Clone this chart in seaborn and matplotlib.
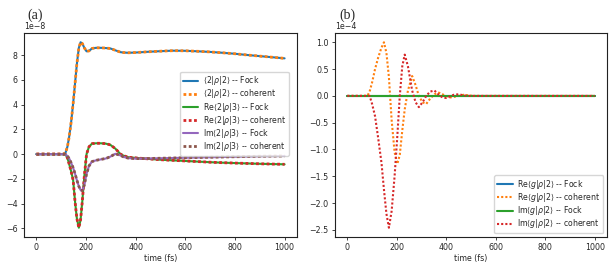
import numpy as np
import matplotlib
matplotlib.use("Agg")
import matplotlib.pyplot as plt
import seaborn as sns

# ---------------- data: panel (a), values in units of 1e-8 ----------------
scale_a = 1e-8
t_a = [0, 50, 100, 110, 117, 125, 132, 140, 148, 156, 163, 171, 178, 185, 193,
       202, 212, 224, 240, 260, 280, 298, 318, 339, 351, 370, 400, 450, 500,
       550, 600, 650, 700, 750, 800, 850, 900, 950, 1000]
pop22 = [0, 0, 0, 0.0, 0.1, 0.6, 1.4, 2.6, 4.1, 5.8, 7.3, 8.6, 9.05, 8.95, 8.6,
         8.32, 8.35, 8.55, 8.6, 8.6, 8.58, 8.55, 8.4, 8.25, 8.22, 8.2, 8.22,
         8.28, 8.33, 8.37, 8.36, 8.32, 8.27, 8.2, 8.12, 8.02, 7.93, 7.84, 7.75]
re23 = [0, 0, 0, 0, -0.02, -0.3, -0.8, -1.4, -2.1, -3.9, -5.2, -5.95, -5.3,
        -3.8, -1.8, 0.0, 0.6, 0.85, 0.88, 0.88, 0.85, 0.75, 0.45, 0.0, -0.12,
        -0.25, -0.3, -0.38, -0.45, -0.5, -0.55, -0.6, -0.65, -0.69, -0.72,
        -0.75, -0.78, -0.8, -0.82]
im23 = [0, 0, 0, 0, -0.02, -0.15, -0.35, -0.7, -1.1, -1.6, -2.1, -2.6, -2.9,
        -2.95, -2.5, -1.6, -0.95, -0.6, -0.5, -0.42, -0.35, -0.2, 0.03, -0.1,
        -0.22, -0.32, -0.36, -0.35, -0.33, -0.31, -0.29, -0.27, -0.25, -0.23,
        -0.21, -0.19, -0.17, -0.16, -0.15]

# ---------------- data: panel (b), values in units of 1e-4 ----------------
scale_b = 1e-4
t_b = [0, 50, 81, 90, 100, 112, 125, 138, 148, 158, 168, 179, 191, 202, 212,
       222, 232, 245, 262, 276, 289, 304, 319, 335, 352, 370, 385, 400, 415,
       430, 450, 470, 490, 510, 550, 600, 700, 800, 900, 1000]
re_g2_coh = [0, 0, 0, 0.08, 0.25, 0.5, 0.72, 0.9, 1.0, 0.8, 0.35, -0.45,
             -1.05, -1.27, -1.1, -0.65, -0.25, 0.1, 0.37, 0.2, 0.0, -0.12,
             -0.15, -0.05, 0.03, 0.06, 0.03, -0.01, -0.03, -0.02, 0.0, 0.02,
             0.01, 0, 0, 0, 0, 0, 0, 0]
im_g2_coh = [0, 0, 0, 0, -0.15, -0.38, -0.8, -1.25, -1.75, -2.2, -2.46, -2.15,
             -1.5, -0.75, 0.0, 0.55, 0.77, 0.55, 0.1, -0.12, -0.21, -0.12, 0.0,
             0.08, 0.1, 0.02, -0.03, -0.04, -0.01, 0.02, 0.03, 0.01, 0.0, 0, 0,
             0, 0, 0, 0, 0]
re_g2_fock = [0] * len(t_b)
im_g2_fock = [0] * len(t_b)

labels_a = [r'⟨2|$\rho$|2⟩ -- Fock',
            r'⟨2|$\rho$|2⟩ -- coherent',
            r'Re⟨2|$\rho$|3⟩ -- Fock',
            r'Re⟨2|$\rho$|3⟩ -- coherent',
            r'Im⟨2|$\rho$|3⟩ -- Fock',
            r'Im⟨2|$\rho$|3⟩ -- coherent']
labels_b = [r'Re⟨$g$|$\rho$|2⟩ -- Fock',
            r'Re⟨$g$|$\rho$|2⟩ -- coherent',
            r'Im⟨$g$|$\rho$|2⟩ -- Fock',
            r'Im⟨$g$|$\rho$|2⟩ -- coherent']

# ---------------- style ----------------
sns.set_style("ticks")
plt.rcParams.update({
    "font.family": ["DejaVu Sans"],
    "font.size": 5.7,
    "axes.linewidth": 0.8,
    "xtick.major.size": 2.5,
    "ytick.major.size": 2.5,
    "xtick.major.width": 0.6,
    "ytick.major.width": 0.6,
    "xtick.direction": "out",
    "ytick.direction": "out",
    "axes.edgecolor": "#222222",
    "mathtext.fontset": "dejavusans",
})
pal = sns.color_palette("tab10")

fig = plt.figure(figsize=(6.11, 2.66), dpi=100)
ax1 = fig.add_axes([24 / 611, 1 - 237 / 266, (297 - 24) / 611, (237 - 33) / 266])
ax2 = fig.add_axes([335 / 611, 1 - 237 / 266, (607 - 335) / 611, (237 - 33) / 266])
for ax in (ax1, ax2):
    for s in ax.spines.values():
        s.set_visible(True)

dot_a = (0, (1.0, 0.9))
dot_b = (0, (1.0, 1.0))

ta = np.array(t_a)
series_a = [np.array(pop22) * scale_a, np.array(re23) * scale_a, np.array(im23) * scale_a]
for i, y in enumerate(series_a):
    sns.lineplot(x=ta, y=y, ax=ax1, color=pal[2 * i], lw=1.5,
                 label=labels_a[2 * i], estimator=None, sort=False)
    sns.lineplot(x=ta, y=y, ax=ax1, color=pal[2 * i + 1], lw=2.0,
                 linestyle=dot_a, label=labels_a[2 * i + 1], estimator=None,
                 sort=False)

tb = np.array(t_b)
series_b = [(re_g2_fock, re_g2_coh), (im_g2_fock, im_g2_coh)]
for i, (yf, yc) in enumerate(series_b):
    sns.lineplot(x=tb, y=np.array(yf) * scale_b, ax=ax2, color=pal[2 * i],
                 lw=1.5, label=labels_b[2 * i], estimator=None, sort=False)
    sns.lineplot(x=tb, y=np.array(yc) * scale_b, ax=ax2, color=pal[2 * i + 1],
                 lw=1.5, linestyle=dot_b, label=labels_b[2 * i + 1],
                 estimator=None, sort=False)

for ax in (ax1, ax2):
    ax.set_xlabel("time (fs)", labelpad=1)
    ax.set_ylabel("")
    ax.tick_params(pad=2)
    ax.set_xticks([0, 200, 400, 600, 800, 1000])
    ax.ticklabel_format(axis="y", style="sci", scilimits=(0, 0))

ax1.legend(loc="upper right", bbox_to_anchor=(0.985, 0.83), frameon=True,
           fontsize=5.6, handlelength=2.0, borderpad=0.35, labelspacing=0.02,
           handletextpad=0.6)
ax2.legend(loc="lower right", frameon=True, fontsize=5.6, handlelength=2.0,
           borderpad=0.35, labelspacing=0.02, handletextpad=0.6)

fig.text(27 / 611, 1 - 15 / 266, "(a)", family=["Liberation Serif", "DejaVu Serif"],
         fontsize=10, va="center")
fig.text(339 / 611, 1 - 15 / 266, "(b)", family=["Liberation Serif", "DejaVu Serif"],
         fontsize=10, va="center")

fig.savefig("out.png", dpi=100)
